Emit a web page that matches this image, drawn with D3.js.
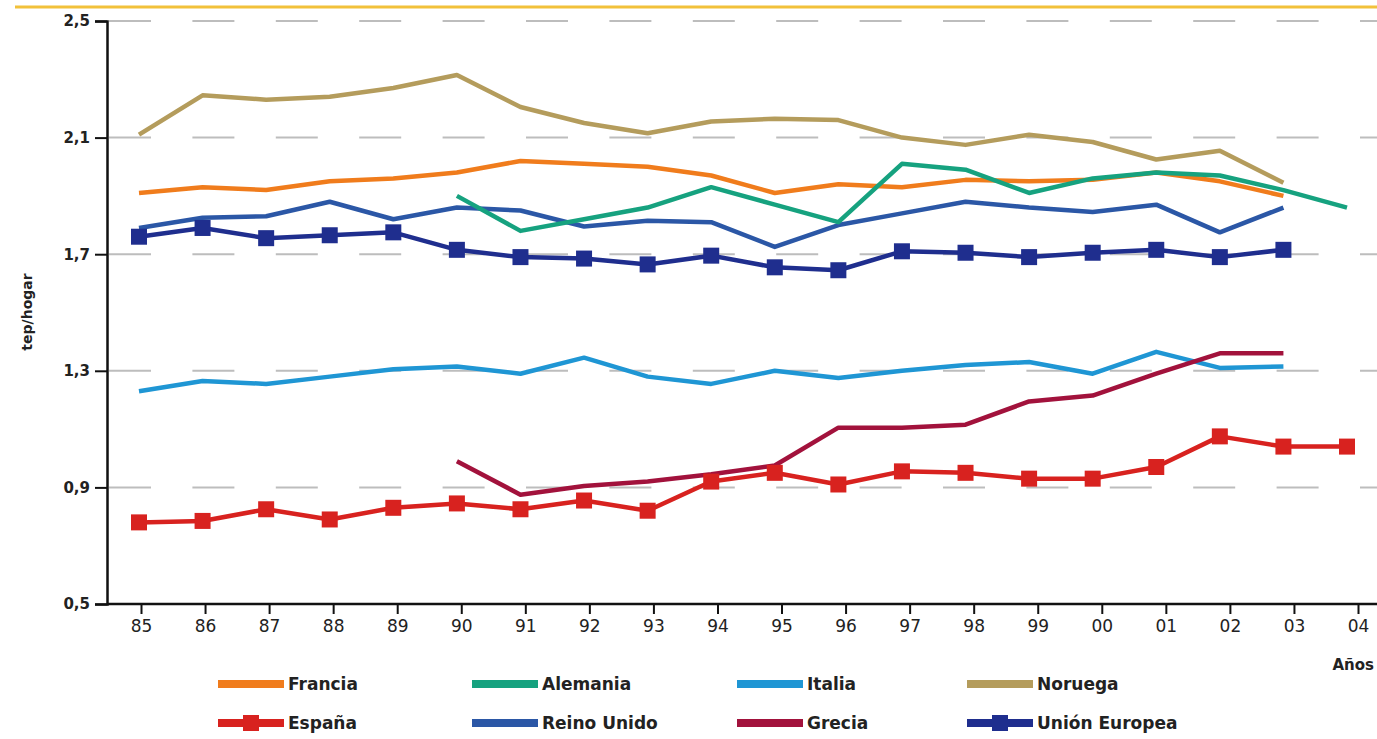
<!DOCTYPE html>
<html>
<head>
<meta charset="utf-8">
<script src="https://cdn.jsdelivr.net/npm/d3@7"></script>
<style>
  body { margin: 0; background: #fff; }
  svg { display: block; }
</style>
</head>
<body>
<div id="chart"></div>
<script>
// years on the x axis
const years = [1985, 1986, 1987, 1988, 1989, 1990, 1991, 1992, 1993, 1994,
               1995, 1996, 1997, 1998, 1999, 2000, 2001, 2002, 2003, 2004];
const yearLabels = ["85", "86", "87", "88", "89", "90", "91", "92", "93", "94",
                    "95", "96", "97", "98", "99", "00", "01", "02", "03", "04"];
const yTicks = [0.5, 0.9, 1.3, 1.7, 2.1, 2.5];

// tep/hogar per country (null = no data)
const francia = [1.91, 1.93, 1.92, 1.95, 1.96, 1.98, 2.02, 2.01, 2.00, 1.97,
                 1.91, 1.94, 1.93, 1.955, 1.95, 1.955, 1.98, 1.95, 1.90, null];
const alemania = [null, null, null, null, null, 1.90, 1.78, 1.82, 1.86, 1.93,
                  1.87, 1.81, 2.01, 1.99, 1.91, 1.96, 1.98, 1.97, 1.92, 1.86];
const italia = [1.23, 1.265, 1.255, 1.28, 1.305, 1.315, 1.29, 1.345, 1.28, 1.255,
                1.30, 1.275, 1.30, 1.32, 1.33, 1.29, 1.365, 1.31, 1.315, null];
const noruega = [2.11, 2.245, 2.23, 2.24, 2.27, 2.315, 2.205, 2.15, 2.115, 2.155,
                 2.165, 2.16, 2.10, 2.075, 2.11, 2.085, 2.025, 2.055, 1.945, null];
const espana = [0.78, 0.785, 0.825, 0.79, 0.83, 0.845, 0.825, 0.855, 0.82, 0.92,
                0.95, 0.91, 0.955, 0.95, 0.93, 0.93, 0.97, 1.075, 1.04, 1.04];
const reinoUnido = [1.79, 1.825, 1.83, 1.88, 1.82, 1.86, 1.85, 1.795, 1.815, 1.81,
                    1.725, 1.80, 1.84, 1.88, 1.86, 1.845, 1.87, 1.775, 1.86, null];
const grecia = [null, null, null, null, null, 0.99, 0.875, 0.905, 0.92, 0.945,
                0.975, 1.105, 1.105, 1.115, 1.195, 1.215, 1.29, 1.36, 1.36, null];
const unionEuropea = [1.76, 1.79, 1.755, 1.765, 1.775, 1.715, 1.69, 1.685, 1.665, 1.695,
                      1.655, 1.645, 1.71, 1.705, 1.69, 1.705, 1.715, 1.69, 1.715, null];

const series = [
    { name: "Italia", values: italia, color: "#1f96d4", marker: false },
    { name: "Grecia", values: grecia, color: "#a2123c", marker: false },
    { name: "España", values: espana, color: "#d8221f", marker: true },
    { name: "Reino Unido", values: reinoUnido, color: "#2b57a6", marker: false },
    { name: "Unión Europea", values: unionEuropea, color: "#1f2e8e", marker: true },
    { name: "Francia", values: francia, color: "#f07c1c", marker: false },
    { name: "Alemania", values: alemania, color: "#16a27f", marker: false },
    { name: "Noruega", values: noruega, color: "#b49c5c", marker: false }
];

// legend layout: [name, column, row]
const legendOrder = [
    ["Francia", 0, 0], ["Alemania", 1, 0], ["Italia", 2, 0], ["Noruega", 3, 0],
    ["España", 0, 1], ["Reino Unido", 1, 1], ["Grecia", 2, 1], ["Unión Europea", 3, 1]
];

const width = 1377, height = 739;
const svg = d3.select("#chart").append("svg")
    .attr("width", width)
    .attr("height", height);

const font = "'DejaVu Sans', sans-serif";

// scales: ticks and plotted points sit slightly apart in the original
const xTick = d3.scaleLinear().domain([1985, 2004]).range([141, 1358]);
const x = d3.scaleLinear().domain([1985, 2004]).range([139, 1347]);
const y = d3.scaleLinear().domain([0.5, 2.5]).range([604, 21]);

// yellow rule at the top
svg.append("line")
    .attr("x1", 15).attr("x2", width)
    .attr("y1", 7).attr("y2", 7)
    .attr("stroke", "#f2c13a")
    .attr("stroke-width", 3);

// dashed grid
svg.append("g")
    .selectAll("line")
    .data(yTicks.slice(1))
    .enter()
    .append("line")
    .attr("x1", 109).attr("x2", width)
    .attr("y1", d => y(d)).attr("y2", d => y(d))
    .attr("stroke", "#bdbdbd")
    .attr("stroke-width", 2)
    .attr("stroke-dasharray", "42,41.4");

// y axis
const yAxis = svg.append("g")
    .attr("transform", "translate(107,0)")
    .call(d3.axisLeft(y).tickValues(yTicks).tickSize(12).tickPadding(5)
        .tickFormat(d => d3.format(".1f")(d).replace(".", ",")));
yAxis.select(".domain").attr("stroke", "#111").attr("stroke-width", 2.5);
yAxis.selectAll(".tick line").attr("stroke", "#111").attr("stroke-width", 2);
yAxis.selectAll("text")
    .attr("font-family", font)
    .attr("font-weight", "bold")
    .attr("font-size", 15)
    .attr("fill", "#222");

// x axis
const xAxis = svg.append("g")
    .attr("transform", "translate(0,604)")
    .call(d3.axisBottom(xTick).tickValues(years).tickSize(10).tickPadding(6)
        .tickFormat((d, i) => yearLabels[i]));
xAxis.select(".domain")
    .attr("d", `M107,0H${width}`)
    .attr("stroke", "#111").attr("stroke-width", 2.5);
xAxis.selectAll(".tick line").attr("stroke", "#111").attr("stroke-width", 2);
xAxis.selectAll("text")
    .attr("font-family", font)
    .attr("font-size", 17)
    .attr("fill", "#222");

svg.append("text")
    .attr("x", 1374).attr("y", 670)
    .attr("text-anchor", "end")
    .attr("font-family", font)
    .attr("font-weight", "bold")
    .attr("font-size", 15)
    .attr("fill", "#222")
    .text("Años");

svg.append("text")
    .attr("transform", "translate(32,312) rotate(-90)")
    .attr("text-anchor", "middle")
    .attr("font-family", font)
    .attr("font-weight", "bold")
    .attr("font-size", 14)
    .attr("fill", "#222")
    .text("tep/hogar");

// lines
const line = d3.line()
    .defined(d => d != null)
    .x((d, i) => x(years[i]))
    .y(d => y(d));

series.forEach(s => {
    svg.append("path")
        .datum(s.values)
        .attr("fill", "none")
        .attr("stroke", s.color)
        .attr("stroke-width", 4.5)
        .attr("stroke-linejoin", "round")
        .attr("d", line);

    if (s.marker) {
        svg.append("g")
            .selectAll("rect")
            .data(s.values.map((v, i) => ({ year: years[i], v })).filter(d => d.v != null))
            .enter()
            .append("rect")
            .attr("x", d => x(d.year) - 8)
            .attr("y", d => y(d.v) - 8)
            .attr("width", 16)
            .attr("height", 16)
            .attr("fill", s.color);
    }
});

// legend
const colX = [218, 472, 737, 967], rowY = [684, 723];
const legend = svg.append("g");
legendOrder.forEach(([name, c, r]) => {
    const s = series.find(d => d.name === name);
    const g = legend.append("g").attr("transform", `translate(${colX[c]},${rowY[r]})`);
    g.append("rect")
        .attr("x", 0).attr("y", -4)
        .attr("width", 66).attr("height", 8)
        .attr("fill", s.color);
    if (s.marker) {
        g.append("rect")
            .attr("x", 25).attr("y", -8)
            .attr("width", 16).attr("height", 16)
            .attr("fill", s.color);
    }
    g.append("text")
        .attr("x", 70).attr("y", 6)
        .attr("font-family", font)
        .attr("font-weight", "bold")
        .attr("font-size", 17)
        .attr("fill", "#222")
        .text(name);
});
</script>
</body>
</html>
